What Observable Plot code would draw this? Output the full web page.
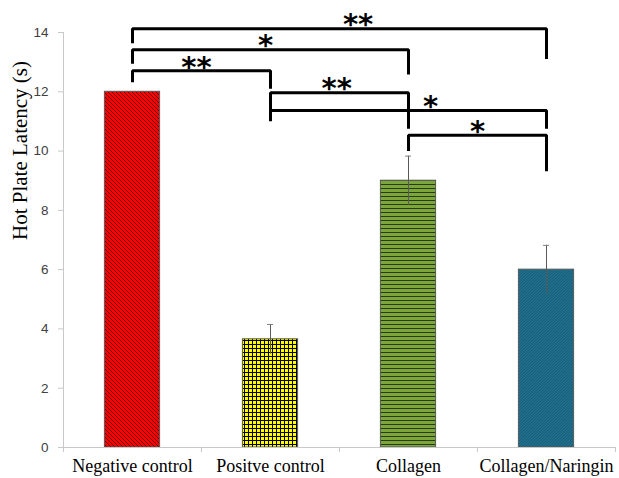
<!DOCTYPE html>
<html>
<head>
<meta charset="utf-8">
<script src="https://cdn.jsdelivr.net/npm/d3@7"></script>
<script src="https://cdn.jsdelivr.net/npm/@observablehq/plot@0.6"></script>
<style>
  html, body { margin: 0; padding: 0; background: #fff; }
  #chart svg { display: block; }
</style>
</head>
<body>
<div id="chart"></div>
<script>
// ---- data ----
const categories = ["Negative control", "Positve control", "Collagen", "Collagen/Naringin"];
const latency = [12, 3.65, 9, 6];
const errorSize = [0, 0.5, 0.83, 0.82];
const yTicks = [0, 2, 4, 6, 8, 10, 12, 14];

// significance brackets (category indices, heights in seconds)
const bracketFrom = [0, 0, 0, 1, 1, 2];
const bracketTo = [3, 2, 1, 2, 3, 3];
const bracketTop = [14.13, 13.42, 12.71, 11.97, 11.37, 10.53];
const bracketLeftEnd = [13.64, 12.95, 12.32, 11.37, 11.01, 10.0];
const bracketRightEnd = [13.11, 12.58, 12.10, 10.75, 10.75, 9.32];
const bracketLabel = ["**", "*", "**", "**", "*", "*"];
const bracketLabelX = [1.635, 0.964, 0.464, 1.48, 2.16, 2.50];

// ---- derived tables ----
const patternIds = ["pat-neg", "pat-pos", "pat-col", "pat-cn"];
const bars = categories.map((c, i) => ({i, c, v: latency[i], e: errorSize[i], fill: `url(#${patternIds[i]})`}));
const errs = bars.filter(d => d.e > 0);
const boundaries = d3.range(-0.5, categories.length, 1);
const halfBar = 0.2;
const capHalf = 3 / 138;

const bracketPts = [];
const bracketText = [];
bracketFrom.forEach((f, k) => {
  const t = bracketTo[k];
  bracketPts.push({k, x: f, y: bracketLeftEnd[k]});
  bracketPts.push({k, x: f, y: bracketTop[k]});
  bracketPts.push({k, x: t, y: bracketTop[k]});
  bracketPts.push({k, x: t, y: bracketRightEnd[k]});
  bracketText.push({x: bracketLabelX[k], y: bracketTop[k], label: bracketLabel[k]});
});

const serif = "'Liberation Serif', 'Times New Roman', serif";
const sans = "'Liberation Sans', Arial, sans-serif";

const chart = Plot.plot({
  width: 619,
  height: 478,
  marginLeft: 63,
  marginRight: 4,
  marginTop: 32,
  marginBottom: 31,
  style: {background: "#fff", overflow: "visible"},
  x: {domain: [-0.5, categories.length - 0.5]},
  y: {domain: [0, 14]},
  color: {type: "identity"},
  marks: [
    Plot.rectY(bars, {x1: d => d.i - halfBar, x2: d => d.i + halfBar, y: "v", fill: "fill", stroke: "#595959", strokeWidth: 1}),
    Plot.ruleX(errs, {x: "i", y1: d => d.v - d.e, y2: d => d.v + d.e, stroke: "#595959", strokeWidth: 1}),
    Plot.ruleY(errs, {y: d => d.v + d.e, x1: d => d.i - capHalf, x2: d => d.i + capHalf, stroke: "#7f7f7f", strokeWidth: 1}),
    Plot.ruleX([boundaries[0]], {y1: 0, y2: 14, stroke: "#c8c8c8"}),
    Plot.ruleY([0], {x1: boundaries[0], x2: boundaries[boundaries.length - 1], stroke: "#c8c8c8"}),
    Plot.axisY({ticks: yTicks, tickSize: 5, tickPadding: 10, stroke: "#c8c8c8", fill: "#404040", fontSize: 13.5, fontFamily: sans, label: null, tickFormat: d => String(d)}),
    Plot.axisX({ticks: boundaries, tickSize: 5, stroke: "#c8c8c8", tickFormat: () => "", label: null}),
    Plot.axisX({ticks: d3.range(categories.length), tickSize: 0, tickPadding: 12, fill: "#000", fontSize: 18, fontFamily: serif, label: null, tickFormat: i => categories[i]}),
    Plot.text(["Hot Plate Latency (s)"], {frameAnchor: "left", rotate: -90, dx: -43, fontSize: 21, fontFamily: serif, fill: "#000"}),
    Plot.line(bracketPts, {x: "x", y: "y", z: "k", stroke: "#000", strokeWidth: 3, strokeLinejoin: "miter", strokeLinecap: "butt", curve: "linear"}),
    Plot.text(bracketText, {x: "x", y: "y", text: "label", dy: -3.5, lineAnchor: "middle", fontSize: 29, fontWeight: "bold", fontFamily: "'DejaVu Sans', sans-serif", fill: "#000"})
  ]
});

const ns = "http://www.w3.org/2000/svg";
const defs = document.createElementNS(ns, "defs");
defs.innerHTML = `
<pattern id="pat-neg" width="4" height="4" patternUnits="userSpaceOnUse">
  <rect width="4" height="4" fill="#ff0000"/>
  <path d="M-1,-1L5,5M-1,3L1,5M3,-1L5,1" stroke="#000" stroke-width="0.6"/>
</pattern>
<pattern id="pat-pos" width="4" height="4" patternUnits="userSpaceOnUse">
  <rect width="4" height="4" fill="#ffff00"/>
  <rect width="4" height="1" fill="#000"/>
  <rect width="1" height="4" fill="#000"/>
</pattern>
<pattern id="pat-col" width="4" height="4" patternUnits="userSpaceOnUse">
  <rect width="4" height="4" fill="#7aa63a"/>
  <rect width="4" height="1" fill="#2b3a12"/>
</pattern>
<pattern id="pat-cn" width="3" height="3" patternUnits="userSpaceOnUse">
  <rect width="3" height="3" fill="#1f6e8c"/>
  <path d="M-1,1L1,-1M-1,4L4,-1M2,4L4,2" stroke="#16586f" stroke-width="0.7"/>
</pattern>`;
chart.insertBefore(defs, chart.firstChild);

document.getElementById("chart").appendChild(chart);
</script>
</body>
</html>
